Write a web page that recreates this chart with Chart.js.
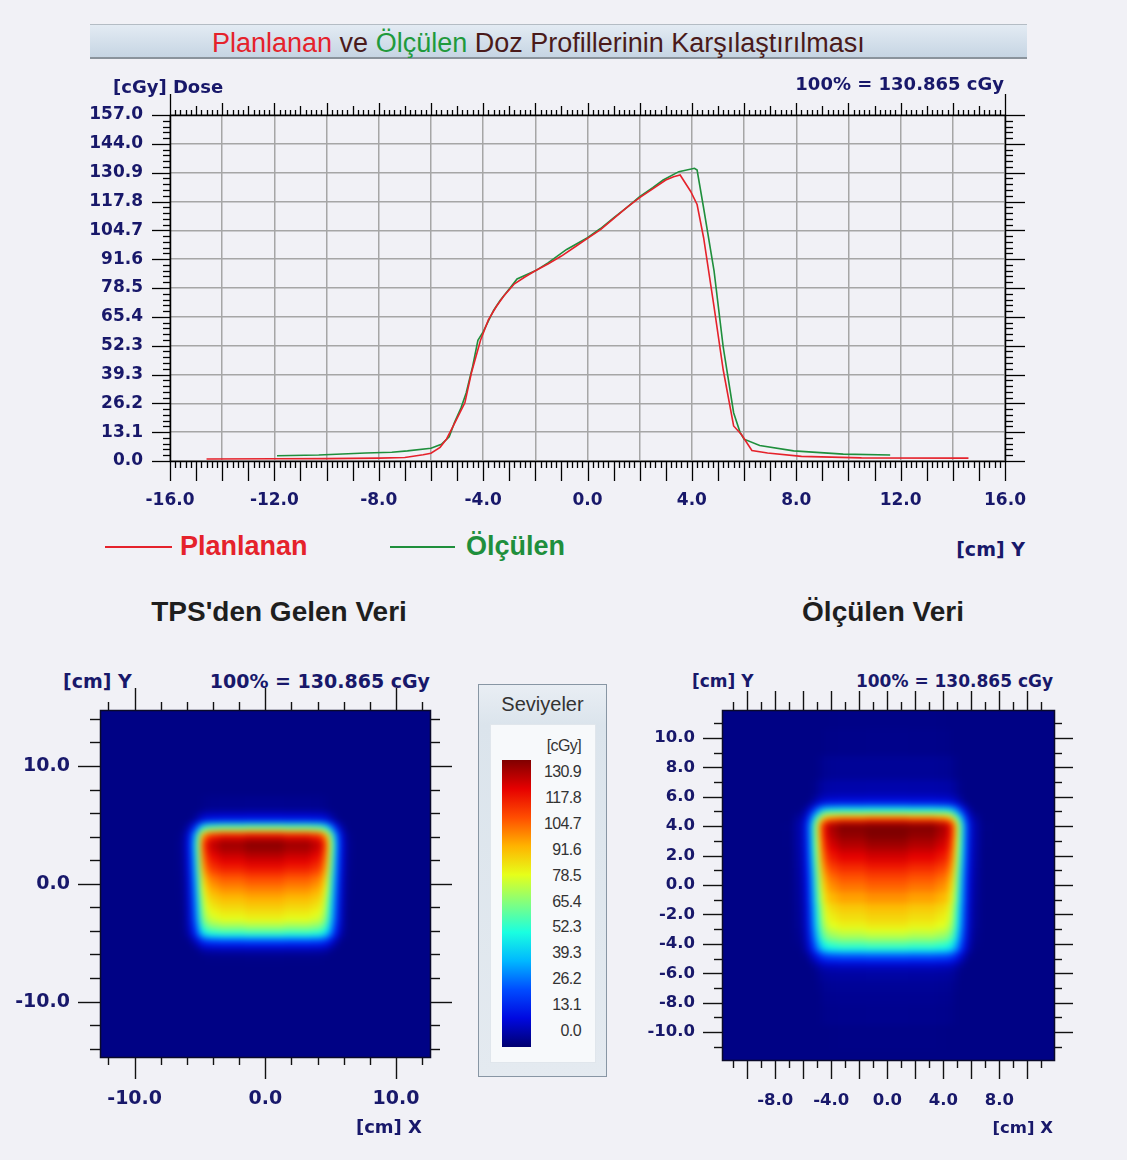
<!DOCTYPE html>
<html lang="tr">
<head>
<meta charset="utf-8">
<title>Doz Profilleri</title>
<script src="https://cdn.jsdelivr.net/npm/chart.js@4.4.1/dist/chart.umd.min.js"></script>
<style>
  body { margin: 0; background: #f1f1f6; }
  #page { position: relative; width: 1127px; height: 1160px; overflow: hidden; font-family: 'DejaVu Sans', sans-serif; }
  canvas { position: absolute; }
  .t { position: absolute; white-space: nowrap; line-height: 1; transform: translateY(-50%); font-weight: bold; color: #18186a; }
  .c { transform: translate(-50%, -50%); }
  #titleBar { position: absolute; left: 90px; top: 24px; width: 937px; height: 35px; box-sizing: border-box;
    background: linear-gradient(#e3ebf3, #c6d5e3); border-top: 1px solid #b4bcc4; border-bottom: 2px solid #8a939c; }
  #titleText { position: absolute; left: 212px; top: 43px; transform: translateY(-50%); white-space: nowrap; line-height: 1;
    font-family: 'Liberation Sans', sans-serif; font-size: 27px; color: #4a1a1a; }
  .legLine { position: absolute; height: 2px; }
  .leg { font-family: 'Liberation Sans', sans-serif; font-size: 27px; }
  .sub { font-family: 'Liberation Sans', sans-serif; font-size: 28px; color: #1e1e1e; }
  #levels { position: absolute; left: 478px; top: 684px; width: 129px; height: 393px; box-sizing: border-box;
    border: 1px solid #8896a4; background: linear-gradient(#e9eef4, #dbe4ec 40px, #e4eaf0); }
  #levelsHead { position: absolute; left: 0; right: 0; top: 19px; transform: translateY(-50%); text-align: center;
    font-family: 'Liberation Sans', sans-serif; font-size: 20px; color: #333; }
  #levelsPanel { position: absolute; left: 11px; top: 39px; width: 106px; height: 339px; background: #f7f9fb; border: 1px solid #e0e6ec; box-sizing: border-box; }
  #levelBar { position: absolute; left: 502px; top: 760px; width: 29px; height: 287px; }
  .lv { position: absolute; right: 546px; transform: translateY(-50%); line-height: 1; white-space: nowrap;
    font-family: 'Liberation Sans', sans-serif; font-size: 16px; letter-spacing: -0.6px; color: #333; }
</style>
</head>
<body>
<div id="page">
  <div id="titleBar"></div>
  <div id="titleText"><span style="color:#e5222b">Planlanan</span> ve <span style="color:#1f9a3c">Ölçülen</span> Doz Profillerinin Karşılaştırılması</div>

  <canvas id="profileChart" width="1127" height="530" style="left:0;top:0"></canvas>

  <div class="t" style="left:113px;top:87px;font-size:18px">[cGy] Dose</div>
  <div class="t" style="right:123px;top:84px;font-size:18px">100% = 130.865 cGy</div>

  <div class="legLine" style="left:105px;top:546px;width:67px;background:#e5222b"></div>
  <div class="t leg" style="left:180px;top:546px;color:#e5222b">Planlanan</div>
  <div class="legLine" style="left:390px;top:546px;width:65px;background:#1f8f3c"></div>
  <div class="t leg" style="left:466px;top:546px;color:#1f8f3c">Ölçülen</div>
  <div class="t" style="right:102px;top:549px;font-size:19px">[cm] Y</div>

  <div class="t c sub" style="left:279px;top:612px">TPS'den Gelen Veri</div>
  <div class="t c sub" style="left:883px;top:612px">Ölçülen Veri</div>

  <div class="t" style="left:63px;top:681px;font-size:19px">[cm] Y</div>
  <div class="t" style="right:697px;top:681px;font-size:19px">100% = 130.865 cGy</div>
  <div class="t" style="left:692px;top:681px;font-size:17px">[cm] Y</div>
  <div class="t" style="right:74px;top:681px;font-size:17px">100% = 130.865 cGy</div>

  <canvas id="tpsMap" width="470" height="520" style="left:0;top:640px"></canvas>
  <canvas id="measMap" width="507" height="520" style="left:620px;top:640px"></canvas>

  <div class="t" style="right:705px;top:1127px;font-size:18px">[cm] X</div>
  <div class="t" style="right:74px;top:1128px;font-size:16.5px">[cm] X</div>

  <div id="levels">
    <div id="levelsHead">Seviyeler</div>
    <div id="levelsPanel"></div>
  </div>
  <div class="lv" style="top:746px">[cGy]</div>
  <div id="levelBar"></div>
</div>

<script>
// Profile along Y through the field centre: planned (TPS) and measured
const planY = [-14.6, -12.0, -10.0, -8.0, -7.0, -6.3, -6.0, -5.65, -5.4, -5.1, -4.7, -4.45, -4.1, -3.8, -3.5, -3.2, -2.8, -2.4, -2.0, -1.5, -1.0, -0.5, 0.0, 0.5, 1.0, 1.5, 2.0, 2.5, 3.0, 3.3, 3.55, 3.95, 4.2, 4.45, 4.85, 5.2, 5.6, 5.9, 6.3, 6.9, 8.2, 10.5, 14.6];
const planDose = [0.9, 1.0, 1.1, 1.3, 1.6, 2.8, 3.5, 6.2, 10.0, 17.0, 26.4, 39.9, 54.8, 64.0, 70.0, 75.0, 80.4, 83.5, 86.3, 89.5, 93.0, 97.0, 101.0, 105.0, 110.0, 115.0, 119.5, 123.5, 127.5, 129.0, 129.8, 122.4, 116.4, 101.3, 69.9, 41.4, 15.9, 12.0, 4.8, 3.6, 2.1, 1.4, 1.3];
const measY = [-11.9, -10.3, -8.5, -7.5, -6.9, -6.0, -5.6, -5.3, -5.1, -4.85, -4.65, -4.4, -4.2, -4.0, -3.6, -3.35, -3.0, -2.7, -2.0, -1.5, -0.8, 0.0, 0.5, 1.0, 1.5, 2.0, 2.5, 2.9, 3.5, 4.1, 4.2, 4.45, 4.85, 5.2, 5.6, 5.85, 6.0, 6.6, 7.9, 9.8, 11.6];
const measDose = [2.4, 2.7, 3.6, 4.0, 4.6, 5.8, 7.6, 11.0, 17.4, 24.0, 30.9, 43.0, 54.8, 58.6, 68.3, 72.8, 78.0, 82.6, 86.3, 90.0, 96.0, 101.3, 105.5, 110.3, 115.0, 120.0, 124.0, 127.5, 131.3, 132.8, 132.0, 114.8, 86.3, 51.8, 21.9, 12.9, 9.9, 7.0, 4.6, 3.1, 2.7];

const doseTickLabels = ['0.0', '13.1', '26.2', '39.3', '52.3', '65.4', '78.5', '91.6', '104.7', '117.8', '130.9', '144.0', '157.0'];
const doseMax = 157;

// Off-axis ratio across X, used with the Y profiles for the two dose maps
const tpsOffX = [-12.6, -10, -8, -7, -6.3, -5.9, -5.6, -5.3, -5.0, -4.7, -4.4, -4.0, -3.0, 0, 3.0, 4.0, 4.4, 4.7, 5.0, 5.3, 5.6, 5.9, 6.3, 7, 8, 10, 12.6];
const tpsOffRatio = [0.005, 0.006, 0.008, 0.012, 0.03, 0.1, 0.22, 0.38, 0.6, 0.8, 0.9, 0.95, 0.98, 1, 0.98, 0.95, 0.9, 0.8, 0.6, 0.38, 0.22, 0.1, 0.03, 0.012, 0.008, 0.006, 0.005];
const measOffX = [-11.9, -10, -8, -7, -6.2, -5.8, -5.5, -5.2, -4.9, -4.6, -4.3, -3.9, -3.0, 0, 3.0, 4.0, 4.4, 4.7, 5.0, 5.3, 5.6, 5.9, 6.3, 7, 8, 10, 11.9];
const measOffRatio = [0.008, 0.01, 0.014, 0.02, 0.05, 0.12, 0.25, 0.42, 0.62, 0.8, 0.9, 0.95, 0.98, 1, 0.98, 0.95, 0.9, 0.8, 0.62, 0.42, 0.25, 0.12, 0.05, 0.02, 0.014, 0.01, 0.008];

// scatter floor seen as the navy background of both maps (cGy)
const tpsBackground = 2.5;
const measBackground = 2.5;

// Colour levels (Seviyeler)
const levelDoses = [0, 13.1, 26.2, 39.3, 52.3, 65.4, 78.5, 91.6, 104.7, 117.8, 130.9];
const levelLabels = ['0.0', '13.1', '26.2', '39.3', '52.3', '65.4', '78.5', '91.6', '104.7', '117.8', '130.9'];
const levelColours = ['#000070', '#0008e0', '#004cff', '#00b8ff', '#1affe0', '#80ff80', '#e6ff1a', '#ffb300', '#ff4d00', '#e60000', '#800000'];

const navy = '#18186a';
Chart.defaults.font.family = "'DejaVu Sans', sans-serif";
Chart.defaults.font.weight = 'bold';
Chart.defaults.color = navy;
Chart.defaults.animation = false;

function hexRgb(h) {
    return [1, 3, 5].map(i => parseInt(h.slice(i, i + 2), 16));
}
const levelRgb = levelColours.map(hexRgb);

function doseColour(d) {
    if (d <= levelDoses[0]) return levelColours[0];
    for (let i = 0; i < levelDoses.length - 1; i++) {
        if (d <= levelDoses[i + 1]) {
            let t = (d - levelDoses[i]) / (levelDoses[i + 1] - levelDoses[i]);
            let a = levelRgb[i], b = levelRgb[i + 1];
            let c = a.map((v, k) => Math.round(v + (b[k] - v) * t));
            return `rgb(${c[0]},${c[1]},${c[2]})`;
        }
    }
    return levelColours[levelColours.length - 1];
}

function seg(ctx, x1, y1, x2, y2) {
    ctx.beginPath();
    ctx.moveTo(x1, y1);
    ctx.lineTo(x2, y2);
    ctx.stroke();
}

// ---- profile chart ----
const profileFrame = {
    id: 'profileFrame',
    afterDraw(chart) {
        const {ctx, chartArea: a, scales: {x, y}} = chart;
        ctx.save();
        ctx.strokeStyle = '#000';
        ctx.lineWidth = 1.3;
        for (let k = -160; k <= 160; k += 2) {
            let px = Math.round(x.getPixelForValue(k / 10)) + 0.5;
            let down = k % 10 === 0 ? 20 : 7;
            let up = Math.abs(k) === 160 ? 21 : k % 20 === 0 ? 12 : k % 10 === 0 ? 9 : 5;
            seg(ctx, px, a.bottom, px, a.bottom + down);
            seg(ctx, px, a.top, px, a.top - up);
        }
        for (let i = 0; i <= 60; i++) {
            let py = Math.round(y.getPixelForValue(i * doseMax / 60)) + 0.5;
            let major = i % 5 === 0;
            seg(ctx, a.left, py, a.left - (major ? 18 : 7), py);
            seg(ctx, a.right, py, a.right + (major ? 20 : 8), py);
        }
        ctx.lineWidth = 1.5;
        ctx.strokeRect(Math.round(a.left) + 0.5, Math.round(a.top) + 0.5, Math.round(a.width), Math.round(a.height));
        ctx.restore();
    }
};

new Chart(document.getElementById('profileChart'), {
    type: 'line',
    data: {
        datasets: [
            {
                label: 'Planlanan',
                data: planY.map((v, i) => ({x: v, y: planDose[i]})),
                borderColor: '#e5222b',
                borderWidth: 1.6,
                pointRadius: 0,
            },
            {
                label: 'Ölçülen',
                data: measY.map((v, i) => ({x: v, y: measDose[i]})),
                borderColor: '#1f8f3c',
                borderWidth: 1.6,
                pointRadius: 0,
            },
        ],
    },
    options: {
        responsive: false,
        layout: {padding: {top: 115, right: 122, left: 0, bottom: 0}},
        plugins: {legend: {display: false}, tooltip: {enabled: false}},
        scales: {
            x: {
                type: 'linear',
                min: -16,
                max: 16,
                afterBuildTicks: s => {
                    let t = [];
                    for (let v = -16; v <= 16; v += 2) t.push({value: v});
                    s.ticks = t;
                },
                afterFit: s => { s.height = 69; },
                ticks: {
                    autoSkip: false,
                    maxRotation: 0,
                    padding: 29,
                    font: {size: 17, weight: 'bold'},
                    callback: v => (v % 4 === 0 ? v.toFixed(1) : ''),
                },
                grid: {color: '#a6a6a6', lineWidth: 1.5, drawTicks: false},
                border: {display: false},
            },
            y: {
                min: 0,
                max: doseMax,
                afterBuildTicks: s => {
                    s.ticks = doseTickLabels.map((_, i) => ({value: i * doseMax / 12}));
                },
                afterFit: s => { s.width = 170; },
                ticks: {
                    autoSkip: false,
                    padding: 27,
                    font: {size: 17, weight: 'bold'},
                    callback: (v, i) => doseTickLabels[i],
                },
                grid: {color: '#a6a6a6', lineWidth: 1.5, drawTicks: false},
                border: {display: false},
            },
        },
    },
    plugins: [profileFrame],
});

// ---- dose maps ----
function buildCells(xs, ratios, ys, doses, floor, xMin, xMax, yMin, yMax) {
    let cells = [];
    for (let j = 0; j < ys.length; j++) {
        let y0 = j === 0 ? yMin - 3 : (ys[j - 1] + ys[j]) / 2;
        let y1 = j === ys.length - 1 ? yMax + 3 : (ys[j] + ys[j + 1]) / 2;
        for (let i = 0; i < xs.length; i++) {
            let x0 = i === 0 ? xMin - 3 : (xs[i - 1] + xs[i]) / 2;
            let x1 = i === xs.length - 1 ? xMax + 3 : (xs[i] + xs[i + 1]) / 2;
            cells.push({x: xs[i], y: ys[j], v: Math.max(floor, doses[j] * ratios[i]), x0, x1, y0, y1});
        }
    }
    return cells;
}

const doseMapPlugin = {
    id: 'doseMap',
    beforeDatasetsDraw(chart) {
        const {ctx, chartArea: a, scales: {x, y}} = chart;
        const off = document.createElement('canvas');
        off.width = chart.width;
        off.height = chart.height;
        const o = off.getContext('2d');
        for (let c of chart.data.datasets[0].data) {
            let l = Math.floor(x.getPixelForValue(c.x0));
            let r = Math.ceil(x.getPixelForValue(c.x1));
            let t = Math.floor(y.getPixelForValue(c.y1));
            let b = Math.ceil(y.getPixelForValue(c.y0));
            o.fillStyle = doseColour(c.v);
            o.fillRect(l, t, r - l + 1, b - t + 1);
        }
        ctx.save();
        ctx.beginPath();
        ctx.rect(a.left, a.top, a.width, a.height);
        ctx.clip();
        ctx.filter = 'blur(3px)';
        ctx.drawImage(off, 0, 0);
        ctx.restore();
    }
};

function makeMapFrame(cfg) {
    return {
        id: 'mapFrame',
        afterDraw(chart) {
            const {ctx, chartArea: a, scales: {x, y}} = chart;
            ctx.save();
            ctx.strokeStyle = '#111';
            ctx.lineWidth = 1.4;
            for (let v = cfg.xFrom; v <= cfg.xTo + 1e-9; v += cfg.step) {
                let px = Math.round(x.getPixelForValue(v)) + 0.5;
                let major = Math.abs(v % cfg.majorStep) < 1e-6;
                seg(ctx, px, a.top, px, a.top - (major ? cfg.major : cfg.minor));
                seg(ctx, px, a.bottom, px, a.bottom + (major ? cfg.major : cfg.minor));
            }
            for (let v = cfg.yFrom; v <= cfg.yTo + 1e-9; v += cfg.step) {
                let py = Math.round(y.getPixelForValue(v)) + 0.5;
                let major = Math.abs(v % cfg.majorStep) < 1e-6;
                seg(ctx, a.left, py, a.left - (major ? cfg.major : cfg.sideMinor), py);
                seg(ctx, a.right, py, a.right + (major ? cfg.major : cfg.sideMinor), py);
            }
            ctx.strokeStyle = '#0a0a2a';
            ctx.lineWidth = 1.5;
            ctx.strokeRect(Math.round(a.left) + 0.5, Math.round(a.top) + 0.5, Math.round(a.width), Math.round(a.height));
            ctx.restore();
        }
    };
}

function makeMap(canvasId, m) {
    new Chart(document.getElementById(canvasId), {
        type: 'scatter',
        data: {
            datasets: [{
                data: buildCells(m.offX, m.offRatio, m.profY, m.profDose, m.floor, m.xMin, m.xMax, m.yMin, m.yMax),
                pointRadius: 0,
                pointHoverRadius: 0,
            }],
        },
        options: {
            responsive: false,
            layout: {padding: {top: m.top, right: m.right, left: 0, bottom: 0}},
            plugins: {legend: {display: false}, tooltip: {enabled: false}},
            scales: {
                x: {
                    type: 'linear',
                    min: m.xMin,
                    max: m.xMax,
                    afterBuildTicks: s => { s.ticks = m.xLabels.map(v => ({value: v})); },
                    afterFit: s => { s.height = m.bottom; },
                    ticks: {autoSkip: false, maxRotation: 0, padding: m.xPad, font: {size: m.fontSize, weight: 'bold'}, callback: v => v.toFixed(1)},
                    grid: {display: false, drawTicks: false},
                    border: {display: false},
                },
                y: {
                    min: m.yMin,
                    max: m.yMax,
                    afterBuildTicks: s => { s.ticks = m.yLabels.map(v => ({value: v})); },
                    afterFit: s => { s.width = m.left; },
                    ticks: {autoSkip: false, padding: m.yPad, font: {size: m.fontSize, weight: 'bold'}, callback: v => v.toFixed(1)},
                    grid: {display: false, drawTicks: false},
                    border: {display: false},
                },
            },
        },
        plugins: [doseMapPlugin, makeMapFrame(m.frame)],
    });
}

makeMap('tpsMap', {
    offX: tpsOffX, offRatio: tpsOffRatio, profY: planY, profDose: planDose, floor: tpsBackground,
    xMin: -12.65, xMax: 12.6, yMin: -14.7, yMax: 14.75,
    xLabels: [-10, 0, 10], yLabels: [-10, 0, 10],
    top: 70, right: 40, left: 100, bottom: 103, xPad: 31, yPad: 30, fontSize: 19,
    frame: {xFrom: -12, xTo: 12, yFrom: -14, yTo: 14, step: 2, majorStep: 10, major: 22, minor: 8, sideMinor: 10},
});

makeMap('measMap', {
    offX: measOffX, offRatio: measOffRatio, profY: measY, profDose: measDose, floor: measBackground,
    xMin: -11.8, xMax: 11.9, yMin: -11.9, yMax: 11.9,
    xLabels: [-8, -4, 0, 4, 8], yLabels: [-10, -8, -6, -4, -2, 0, 2, 4, 6, 8, 10],
    top: 70, right: 73, left: 102, bottom: 100, xPad: 31, yPad: 27, fontSize: 16.5,
    frame: {xFrom: -11, xTo: 11, yFrom: -11, yTo: 11, step: 1, majorStep: 2, major: 19, minor: 8, sideMinor: 8},
});

// ---- colour levels legend ----
const bar = document.getElementById('levelBar');
bar.style.background = 'linear-gradient(to top, ' +
    levelColours.map((c, i) => `${c} ${(i * 100 / (levelColours.length - 1)).toFixed(1)}%`).join(', ') + ')';
const page = document.getElementById('page');
levelLabels.forEach((lab, i) => {
    let d = document.createElement('div');
    d.className = 'lv';
    d.style.top = (1031 - i * 25.9) + 'px';
    d.textContent = lab;
    page.appendChild(d);
});
</script>
</body>
</html>
